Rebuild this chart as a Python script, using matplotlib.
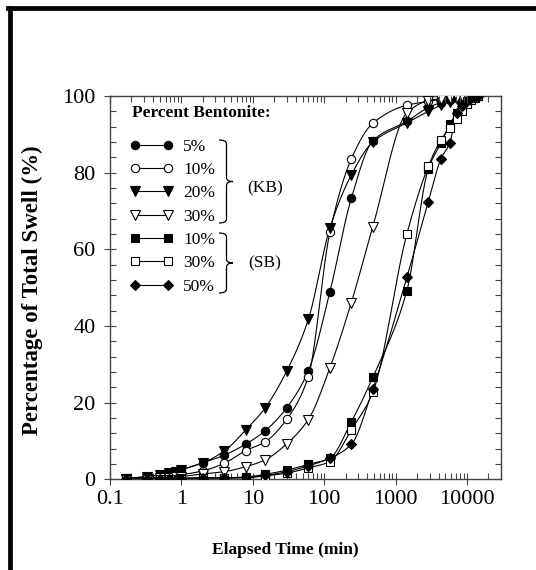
import numpy as np
import matplotlib
matplotlib.use('Agg')
import matplotlib.pyplot as plt
from matplotlib.lines import Line2D
from matplotlib.path import Path
from matplotlib.patches import PathPatch
from matplotlib.ticker import LogLocator, NullFormatter, MultipleLocator

plt.rcParams['font.family'] = ['Liberation Serif', 'DejaVu Serif']

# elapsed time (min)
t = [0.167, 0.333, 0.5, 0.667, 0.833, 1, 2, 4, 8, 15, 30, 60, 120, 240, 480,
     1440, 2880, 4320, 5760, 7200, 8640, 10080, 11520, 12960, 14400]

# percentage of total swell
kb5 = [0.2, 0.7, 1.2, 1.6, 2.0, 2.5, 4.3, 6.3, 9.2, 12.7, 18.7, 28.3, 48.8, 73.3, 88.3,
       93.4, 97.0, 98.3, 99.0, 99.4, 99.7, 99.9, 100, 100, 100]
kb10 = [0.1, 0.3, 0.6, 0.8, 1.0, 1.2, 2.2, 4.2, 7.5, 9.8, 15.7, 26.8, 64.4, 83.6, 92.9,
        97.6, 98.6, 99.2, 99.5, 99.7, 99.8, 99.9, 100, 100, 100]
kb20 = [0.2, 0.7, 1.2, 1.6, 2.0, 2.5, 4.3, 7.4, 12.9, 18.7, 28.3, 41.7, 65.5, 79.4, 88.0,
        93.0, 96.0, 97.6, 98.5, 99.1, 99.5, 99.8, 100, 100, 100]
kb30 = [0.1, 0.2, 0.3, 0.4, 0.5, 0.7, 1.4, 2.0, 3.3, 5.1, 9.3, 15.6, 29.0, 46.1, 65.9,
        95.6, 98.8, 99.3, 99.6, 99.8, 99.9, 100, 100, 100, 100]
sb10 = [0.0, 0.1, 0.1, 0.2, 0.2, 0.3, 0.4, 0.4, 0.6, 1.3, 2.4, 3.9, 5.5, 15.0, 26.6,
        49.2, 81.0, 87.7, 92.8, 95.5, 97.5, 98.6, 99.3, 99.7, 100]
sb30 = [0.0, 0.0, 0.1, 0.1, 0.1, 0.2, 0.3, 0.3, 0.4, 0.9, 1.6, 3.0, 4.6, 12.9, 22.7,
        64.0, 81.7, 88.5, 91.6, 94.0, 96.0, 97.8, 98.9, 99.6, 100]
sb50 = [0.0, 0.0, 0.1, 0.1, 0.2, 0.2, 0.3, 0.4, 0.5, 1.0, 2.0, 3.5, 5.5, 9.1, 23.5,
        52.7, 72.4, 83.6, 87.8, 95.5, 97.3, 98.6, 99.4, 99.8, 100]

labels = ['5%', '10%', '20%', '30%', '10%', '30%', '50%']


def smooth(x, y, n=25):
    # monotone cubic through the points, in log-time
    x = np.log10(np.asarray(x, float))
    y = np.asarray(y, float)
    h = np.diff(x)
    d = np.diff(y) / h
    m = np.zeros_like(y)
    m[0], m[-1] = d[0], d[-1]
    for k in range(1, len(x) - 1):
        if d[k - 1] * d[k] <= 0:
            m[k] = 0
        else:
            w1 = 2 * h[k] + h[k - 1]
            w2 = h[k] + 2 * h[k - 1]
            m[k] = (w1 + w2) / (w1 / d[k - 1] + w2 / d[k])
    xs, ys = [], []
    s = np.linspace(0, 1, n, endpoint=False)
    for k in range(len(x) - 1):
        h00 = 2 * s**3 - 3 * s**2 + 1
        h10 = s**3 - 2 * s**2 + s
        h01 = -2 * s**3 + 3 * s**2
        h11 = s**3 - s**2
        ys.append(h00 * y[k] + h10 * h[k] * m[k] + h01 * y[k + 1] + h11 * h[k] * m[k + 1])
        xs.append(x[k] + s * h[k])
    xs.append([x[-1]])
    ys.append([y[-1]])
    return 10 ** np.concatenate(xs), np.concatenate(ys)


W, H = 536, 570
fig = plt.figure(figsize=(W / 100, H / 100), dpi=100)
ax = fig.add_axes([110 / W, 1 - 479.3 / H, 391 / W, 383.3 / H])

series = [(kb5, 'o', 'k'), (kb10, 'o', 'w'), (kb20, 'v', 'k'), (kb30, 'v', 'w'),
          (sb10, 's', 'k'), (sb30, 's', 'w'), (sb50, 'D', 'k')]
sizes = {'o': 6, 'v': 6.5, 's': 5.5, 'D': 5.5}
handles = []
for y, mk, fc in series:
    xs, ys = smooth(t, y)
    ax.plot(xs, ys, '-', color='k', lw=0.8, zorder=2)
    ax.plot(t, y, ls='none', marker=mk, ms=sizes[mk], mfc=fc, mec='k', mew=0.8, zorder=3)
    handles.append(Line2D([], [], color='k', lw=0.8, marker=mk, ms=sizes[mk],
                          mfc=fc, mec='k', mew=0.8))

ax.set_xscale('log')
ax.set_xlim(0.1, 30000)
ax.set_ylim(0, 100)
ax.set_xticks([0.1, 1, 10, 100, 1000, 10000])
ax.set_xticklabels(['0.1', '1', '10', '100', '1000', '10000'])
ax.xaxis.set_minor_locator(LogLocator(base=10, subs=np.arange(2, 10), numticks=20))
ax.xaxis.set_minor_formatter(NullFormatter())
ax.yaxis.set_major_locator(MultipleLocator(20))
ax.yaxis.set_minor_locator(MultipleLocator(4))

ax.tick_params(which='major', direction='inout', length=9, width=0.8, labelsize=16,
               top=False, right=False, color='#444')
ax.tick_params(which='minor', direction='in', length=4, width=0.8,
               top=False, right=False, color='#444')
ax.tick_params(axis='x', which='major', pad=3)
ax.tick_params(axis='y', which='major', pad=6)
for sp in ax.spines.values():
    sp.set_color('#444')
    sp.set_linewidth(1)

# ticks on the top and right, pointing inward
axr = ax.twinx()
axr.set_ylim(0, 100)
axr.yaxis.set_major_locator(MultipleLocator(4))
axr.tick_params(direction='in', length=4, width=0.8, labelright=False, color='#444')
axt = ax.twiny()
axt.set_xscale('log')
axt.set_xlim(0.1, 30000)
axt.xaxis.set_minor_locator(LogLocator(base=10, subs=np.arange(2, 10), numticks=20))
axt.tick_params(which='both', direction='in', length=4, width=0.8, labeltop=False, color='#444')
axt.tick_params(which='major', length=5)
for a in (axr, axt):
    for sp in a.spines.values():
        sp.set_visible(False)

fig.text(285 / W, 1 - 550 / H, 'Elapsed Time (min)', ha='center', va='center',
         fontsize=12.5, fontweight='bold')
fig.text(32 / W, 1 - 290 / H, 'Percentage of Total Swell (%)', ha='center', va='center',
         rotation=90, fontsize=16.5, fontweight='bold')

fig.text(132 / W, 1 - 113 / H, 'Percent Bentonite:', ha='left', va='center',
         fontsize=12.5, fontweight='bold')
ax.legend(handles, labels, loc='upper left', bbox_to_anchor=(130 / W, 1 - 138.8 / H),
          bbox_transform=fig.transFigure, numpoints=2, handlelength=2.5,
          handletextpad=0.56, labelspacing=0.41, fontsize=12.5, frameon=False,
          borderaxespad=0, borderpad=0)


def brace(x0, xt, ytop, ybot):
    # right-facing curly brace, figure pixels
    ym = (ytop + ybot) / 2
    xm = (x0 + xt) / 2 + 0.5
    r = 4
    pts = [(x0, ytop), (xm, ytop), (xm, ytop + r),
           (xm, ym - r), (xm, ym), (xt, ym),
           (xm, ym), (xm, ym + r),
           (xm, ybot - r), (xm, ybot), (x0, ybot)]
    codes = [Path.MOVETO, Path.CURVE3, Path.CURVE3,
             Path.LINETO, Path.CURVE3, Path.CURVE3,
             Path.CURVE3, Path.CURVE3,
             Path.LINETO, Path.CURVE3, Path.CURVE3]
    pts = [(px / W, 1 - py / H) for px, py in pts]
    fig.add_artist(PathPatch(Path(pts, codes), fill=False, lw=0.9, ec='k',
                             transform=fig.transFigure))


brace(219, 233, 140, 223)
brace(219, 233, 233, 293)
fig.text(265 / W, 1 - 188 / H, '(KB)', ha='center', va='center', fontsize=12.5)
fig.text(265 / W, 1 - 263 / H, '(SB)', ha='center', va='center', fontsize=12.5)

# frame border (left and top edges)
fig.add_artist(Line2D([9.5 / W, 9.5 / W], [0, 1 - 8 / H], color='k', lw=3.4,
                      transform=fig.transFigure))
fig.add_artist(Line2D([8 / W, 1], [1 - 8 / H, 1 - 8 / H], color='k', lw=3.4,
                      transform=fig.transFigure))

plt.savefig('out.png', dpi=100)
